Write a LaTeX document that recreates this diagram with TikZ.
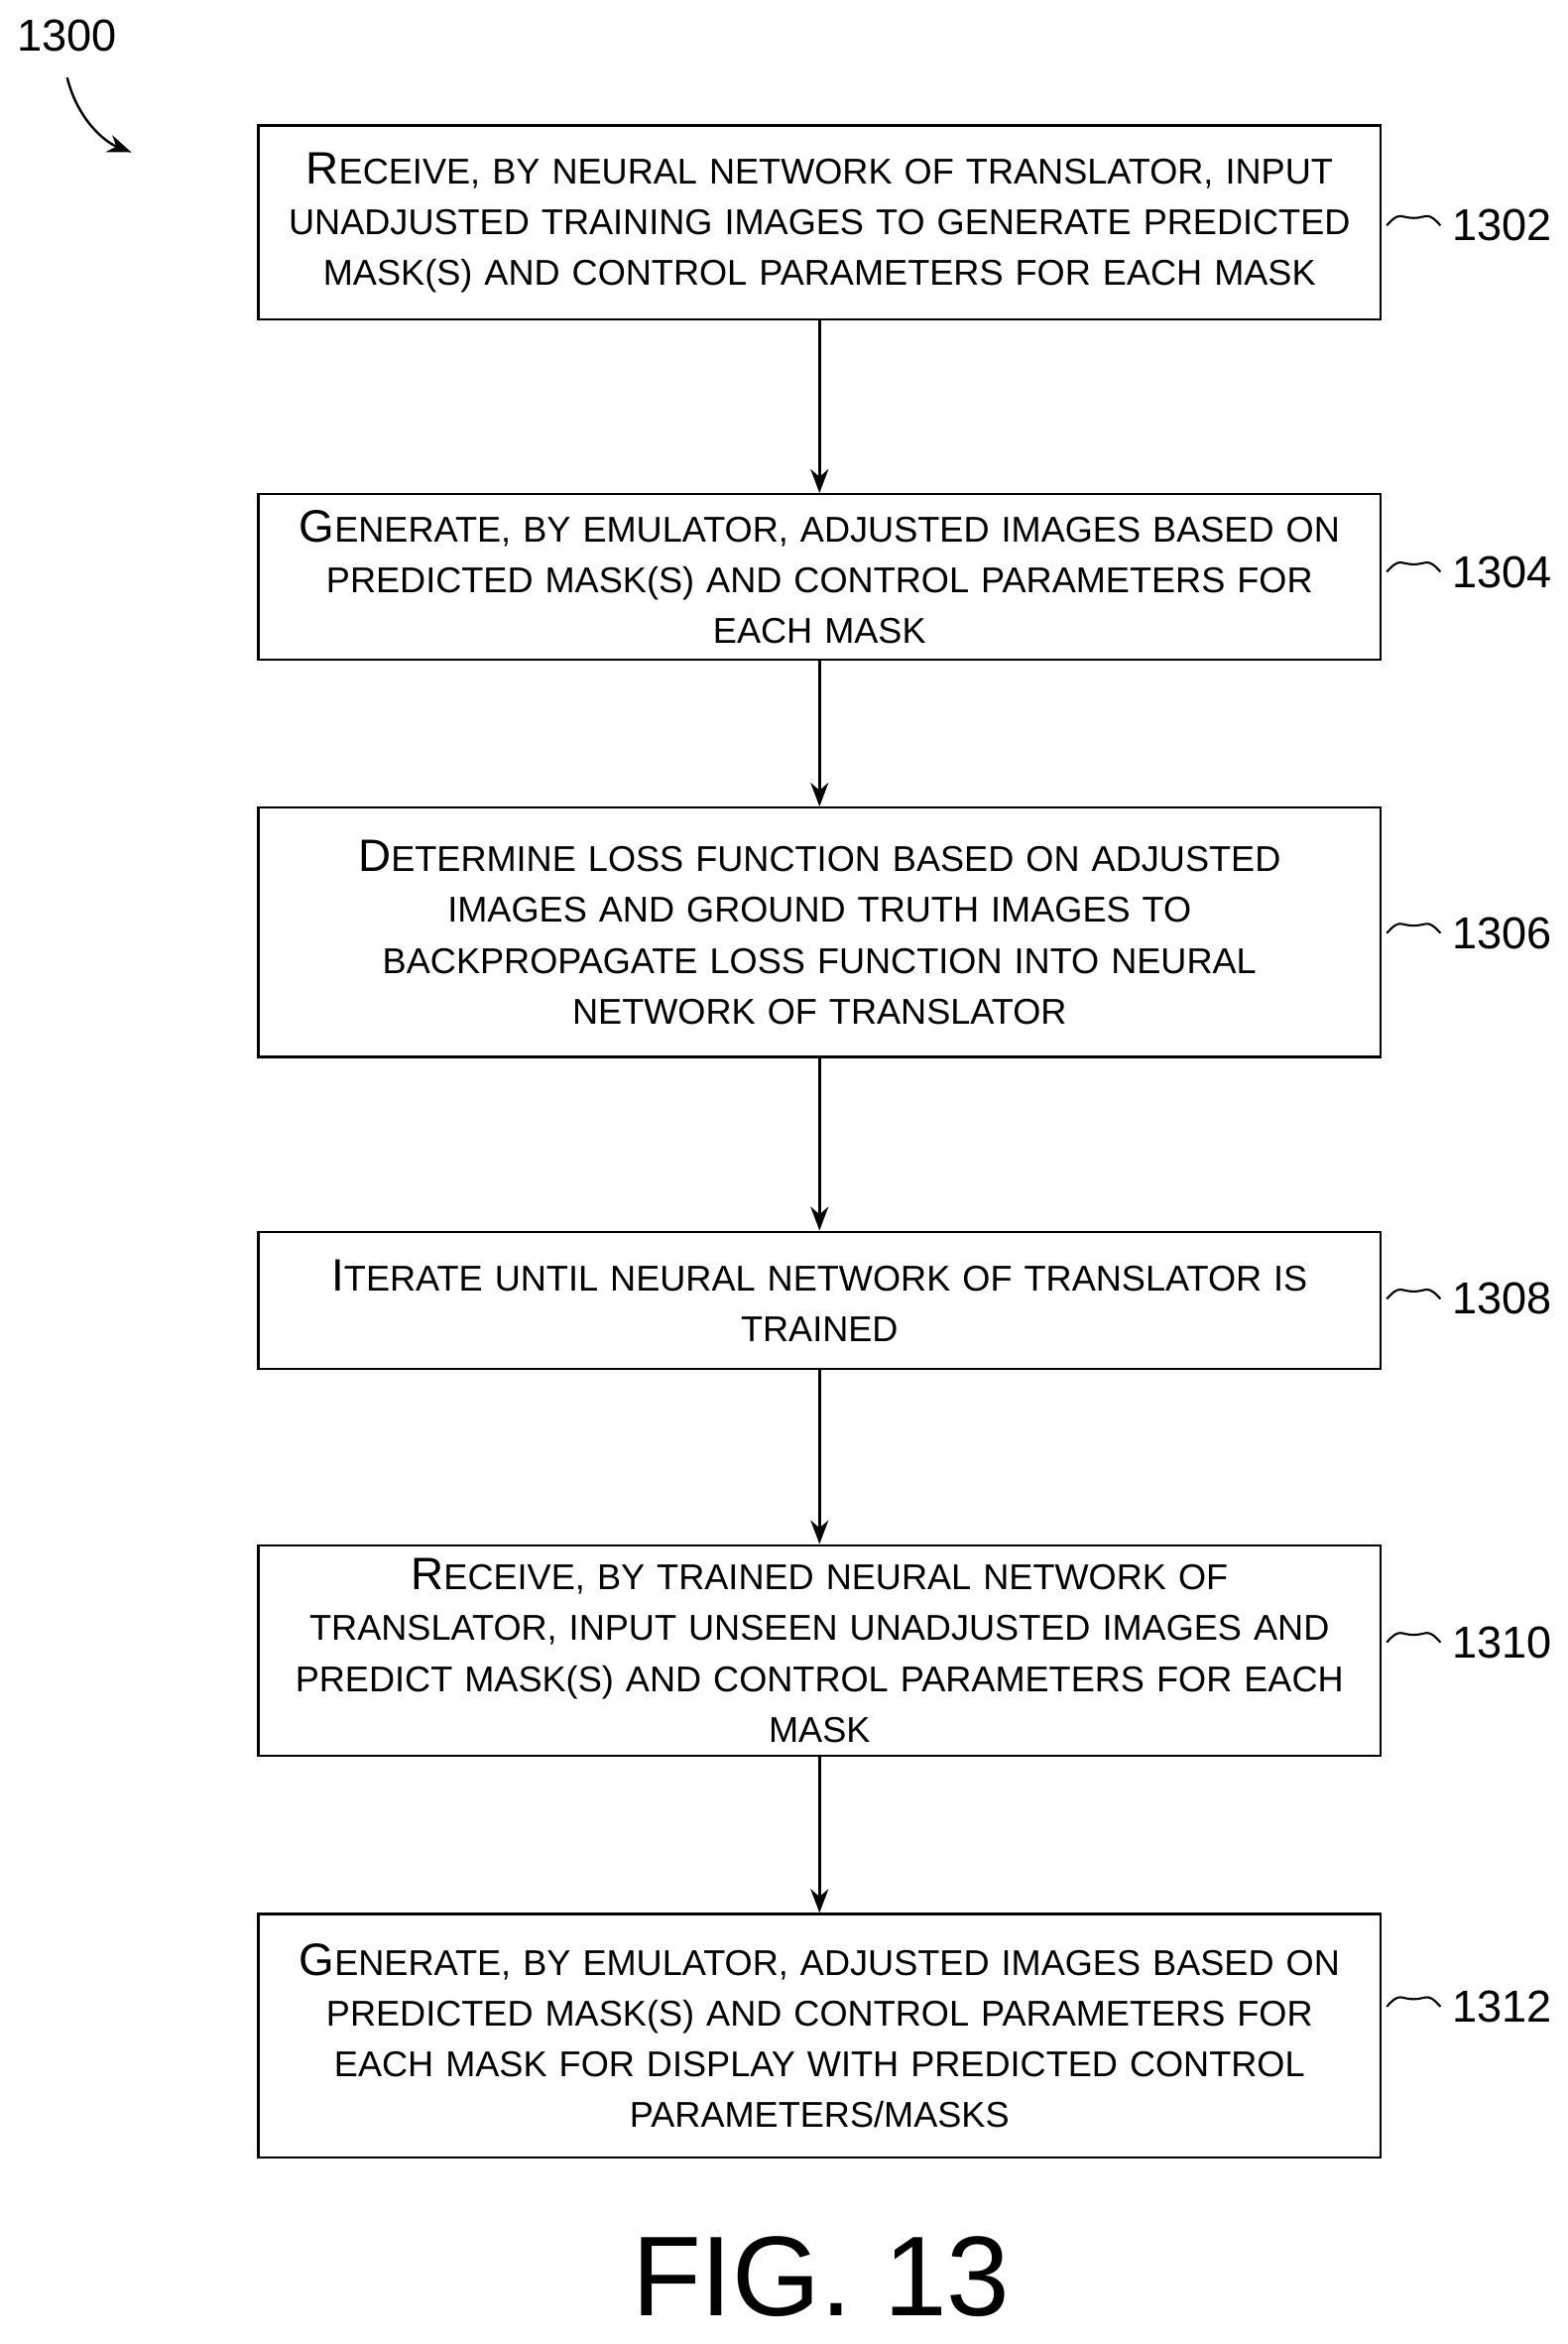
\documentclass[tikz,border=0pt]{standalone}
\usepackage{fontspec}
\setmainfont{Liberation Sans}
\usetikzlibrary{positioning,arrows.meta}
\newcommand\fl[1]{{\fontsize{15.2}{17}\selectfont #1}}
\tikzset{stage/.style={draw,line width=0.8pt,minimum width=376pt,text width=374pt,align=center,
    font=\fontsize{12}{17}\selectfont,inner sep=0pt},
  flow/.style={-{Stealth[length=8pt,width=6pt]},line width=0.8pt},
  tag/.style={font=\fontsize{15}{17}\selectfont,anchor=west}}
\begin{document}
\begin{tikzpicture}[x=0.5pt,y=-0.5pt]
    \useasboundingbox (0,0) rectangle (1050,1570);
    \node[stage,minimum height=65pt] at (549,149) (s1302) {\fl{R}ECEIVE, BY NEURAL NETWORK OF TRANSLATOR, INPUT\\UNADJUSTED TRAINING IMAGES TO GENERATE PREDICTED\\MASK(S) AND CONTROL PARAMETERS FOR EACH MASK};
    \node[stage,minimum height=55.5pt] at (549,386.5) (s1304) {\fl{G}ENERATE, BY EMULATOR, ADJUSTED IMAGES BASED ON\\PREDICTED MASK(S) AND CONTROL PARAMETERS FOR\\EACH MASK};
    \node[stage,minimum height=83.5pt] at (549,624.5) (s1306) {\fl{D}ETERMINE LOSS FUNCTION BASED ON ADJUSTED\\IMAGES AND GROUND TRUTH IMAGES TO\\BACKPROPAGATE LOSS FUNCTION INTO NEURAL\\NETWORK OF TRANSLATOR};
    \node[stage,minimum height=46pt] at (549,871) (s1308) {\fl{I}TERATE UNTIL NEURAL NETWORK OF TRANSLATOR IS\\TRAINED};
    \node[stage,minimum height=70.5pt] at (549,1105.5) (s1310) {\fl{R}ECEIVE, BY TRAINED NEURAL NETWORK OF\\TRANSLATOR, INPUT UNSEEN UNADJUSTED IMAGES AND\\PREDICT MASK(S) AND CONTROL PARAMETERS FOR EACH\\MASK};
    \node[stage,minimum height=81.5pt] at (549,1363.5) (s1312) {\fl{G}ENERATE, BY EMULATOR, ADJUSTED IMAGES BASED ON\\PREDICTED MASK(S) AND CONTROL PARAMETERS FOR\\EACH MASK FOR DISPLAY WITH PREDICTED CONTROL\\PARAMETERS/MASKS};

    \foreach \s/\y in {1302/151,1304/383,1306/625,1308/870,1310/1100,1312/1344} {
      \node[tag] at (966,\y) (t\s) {\s};
      \draw[line width=0.7pt] (t\s.west) ++(-1,0) .. controls +(-9,-10) and +(9,0) .. ++(-18,-5) .. controls +(-9,0) and +(9,-10) .. ++(-18,5);
    }

    \draw[flow] (s1302) -- (s1304);
    \draw[flow] (s1304) -- (s1306);
    \draw[flow] (s1306) -- (s1308);
    \draw[flow] (s1308) -- (s1310);
    \draw[flow] (s1310) -- (s1312);

    \node[font=\fontsize{15}{17}\selectfont] at (45,24) (fig) {1300};
    \coordinate (figtip) at (88,102);
    \draw[flow] (45,52) .. controls (52,80) and (70,95) .. (figtip);
    \node[font=\fontsize{38}{44}\selectfont] at (550,1525) (cap) {FIG. 13};
\end{tikzpicture}
\end{document}
